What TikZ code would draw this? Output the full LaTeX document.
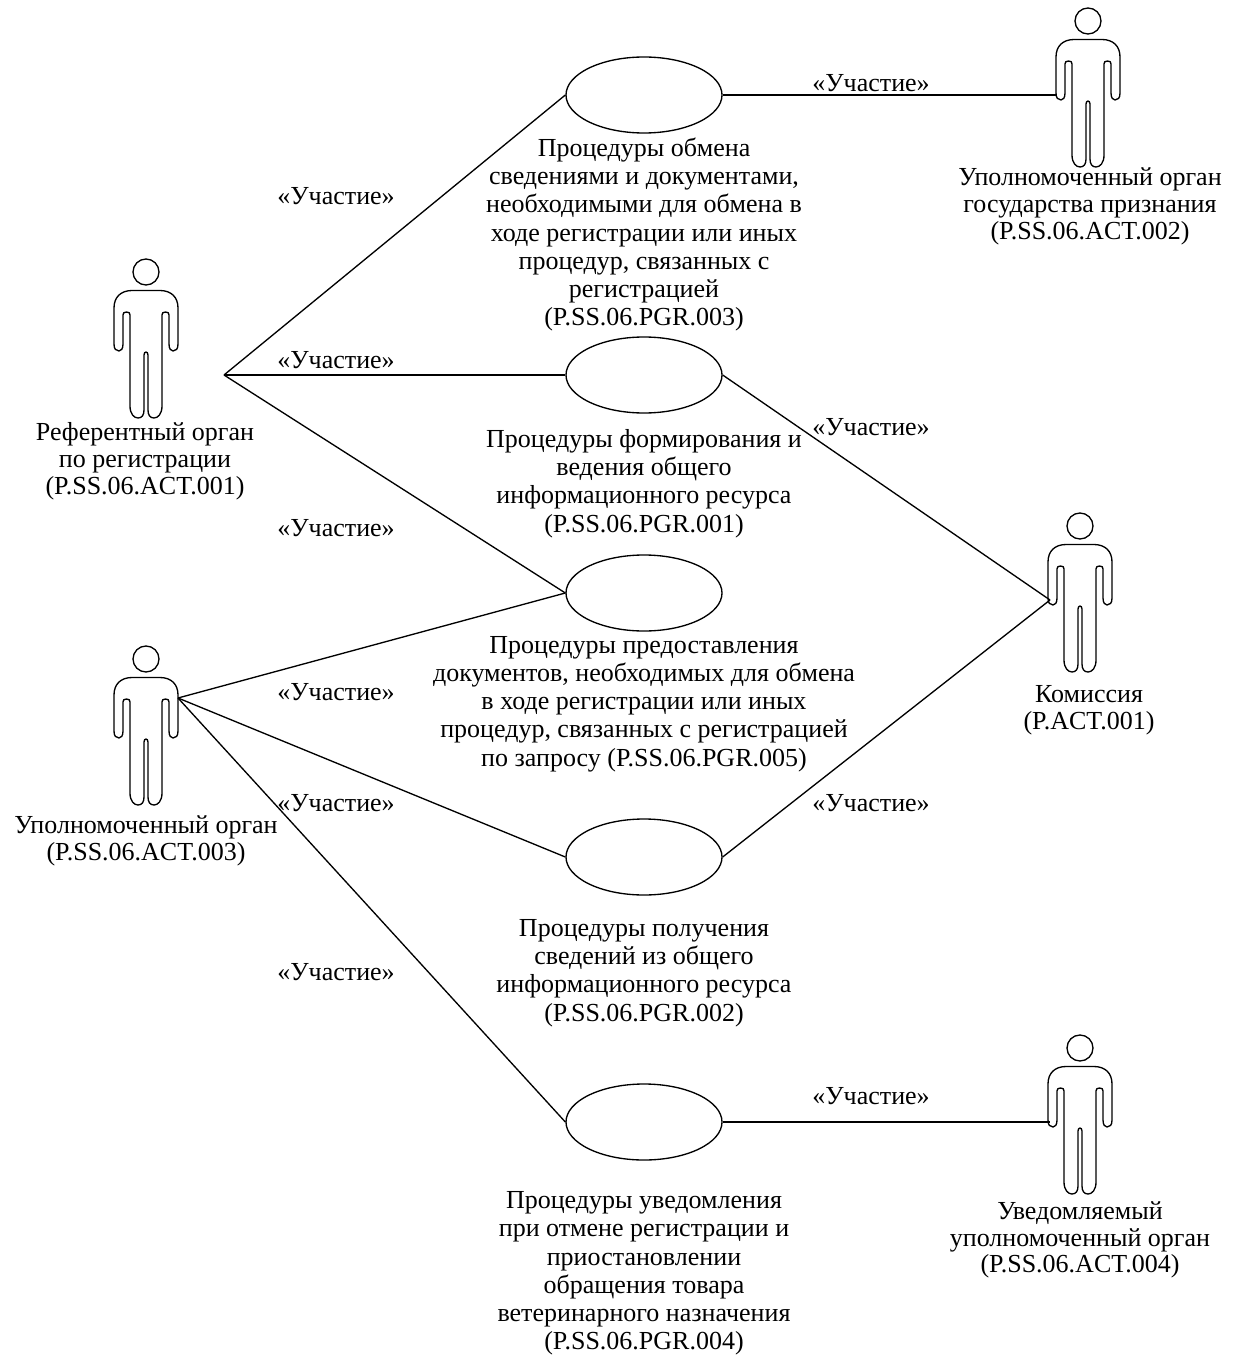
\documentclass[tikz,border=0pt]{standalone}
\usepackage{fontspec}
\setmainfont{Liberation Serif}
\usetikzlibrary{shapes.geometric}
\tikzset{
  x=0.75pt,y=-0.75pt,
  usecase/.style={draw,ellipse,line width=1pt,minimum width=117pt,minimum height=57pt,inner sep=0pt},
  lbl/.style={align=center,font=\fontsize{19.5}{21.2}\selectfont,inner sep=0pt},
  alabel/.style={align=center,font=\fontsize{19.5}{20.1}\selectfont,inner sep=0pt},
  conn/.style={line width=1pt},
  actor/.pic={
    \draw[line width=1pt] (0,0) circle[radius=13];
    \draw[line width=1pt,line join=round]
      (-16,134) -- (-16,43)
      .. controls (-16,41) and (-17,40) .. (-19.5,40)
      .. controls (-22,40) and (-23,41) .. (-23,43)
      -- (-23,72)
      .. controls (-23,77) and (-25,79) .. (-27,79)
      .. controls (-30,79) and (-32,77) .. (-32,72)
      -- (-32,36)
      .. controls (-32,25) and (-25,18.5) .. (-14,18.5)
      -- (14,18.5)
      .. controls (25,18.5) and (32,25) .. (32,36)
      -- (32,72)
      .. controls (32,77) and (30,79) .. (27,79)
      .. controls (25,79) and (23,77) .. (23,72)
      -- (23,43)
      .. controls (23,41) and (22,40) .. (19.5,40)
      .. controls (17,40) and (16,41) .. (16,43)
      -- (16,134)
      .. controls (16,142) and (12,146) .. (8,146)
      .. controls (4,146) and (2,143) .. (2,138)
      -- (2,83)
      .. controls (2,81) and (1,80) .. (0,80)
      .. controls (-1,80) and (-2,81) .. (-2,83)
      -- (-2,138)
      .. controls (-2,143) and (-4,146) .. (-8,146)
      .. controls (-12,146) and (-16,142) .. (-16,134)
      -- cycle;
  }
}
\begin{document}
\begin{tikzpicture}
\useasboundingbox (0,0) rectangle (1240,1355);
% use cases
\node[usecase] (e1) at (644,95) {};
\node[usecase] (e2) at (644,375) {};
\node[usecase] (e3) at (644,593) {};
\node[usecase] (e4) at (644,857) {};
\node[usecase] (e5) at (644,1122) {};
% actors
\pic at (146,272) {actor};
\pic at (1088,21) {actor};
\pic at (1080,526) {actor};
\pic at (146,659) {actor};
\pic at (1080,1048) {actor};
% connection points
\coordinate (hubA) at (224,375);
\coordinate (hubB) at (1057,95);
\coordinate (hubC) at (1050,600);
\coordinate (hubD) at (178,698);
\coordinate (hubE) at (1050,1122);
% connectors
\draw[conn] (hubA) -- (e1.west);
\draw[conn] (hubA) -- (e2.west);
\draw[conn] (hubA) -- (e3.west);
\draw[conn] (e1.east) -- (hubB);
\draw[conn] (e2.east) -- (hubC);
\draw[conn] (e4.east) -- (hubC);
\draw[conn] (hubD) -- (e3.west);
\draw[conn] (hubD) -- (e4.west);
\draw[conn] (hubD) -- (e5.west);
\draw[conn] (e5.east) -- (hubE);
% stereotype labels
\node[lbl] (s1) at (336,196) {«Участие»};
\node[lbl] (s2) at (336,360) {«Участие»};
\node[lbl] (s3) at (336,528) {«Участие»};
\node[lbl] (s4) at (336,692) {«Участие»};
\node[lbl] (s5) at (336,803) {«Участие»};
\node[lbl] (s6) at (336,972) {«Участие»};
\node[lbl] (s7) at (871,83) {«Участие»};
\node[lbl] (s8) at (871,427) {«Участие»};
\node[lbl] (s9) at (871,803) {«Участие»};
\node[lbl] (s10) at (871,1096) {«Участие»};
% text labels
\node[lbl] (t1) at (644,234.5) {Процедуры обмена\\сведениями и документами,\\необходимыми для обмена в\\ходе регистрации или иных\\процедур, связанных с\\регистрацией\\(P.SS.06.PGR.003)};
\node[lbl] (t2) at (644,483.5) {Процедуры формирования и\\ведения общего\\информационного ресурса\\(P.SS.06.PGR.001)};
\node[lbl] (t3) at (644,704) {Процедуры предоставления\\документов, необходимых для обмена\\в ходе регистрации или иных\\процедур, связанных с регистрацией\\по запросу (P.SS.06.PGR.005)};
\node[lbl] (t4) at (644,973) {Процедуры получения\\сведений из общего\\информационного ресурса\\(P.SS.06.PGR.002)};
\node[lbl] (t5) at (644,1273.5) {Процедуры уведомления\\при отмене регистрации и\\приостановлении\\обращения товара\\ветеринарного назначения\\(P.SS.06.PGR.004)};
\node[alabel] (a1) at (145,461) {Референтный орган\\по регистрации\\(P.SS.06.ACT.001)};
\node[alabel] (a2) at (1090,206.5) {Уполномоченный орган\\государства признания\\(P.SS.06.ACT.002)};
\node[alabel] (a3) at (1089,710) {Комиссия\\(P.ACT.001)};
\node[alabel] (a4) at (146,841) {Уполномоченный орган\\(P.SS.06.ACT.003)};
\node[alabel] (a5) at (1080,1240) {Уведомляемый\\уполномоченный орган\\(P.SS.06.ACT.004)};
\end{tikzpicture}
\end{document}
